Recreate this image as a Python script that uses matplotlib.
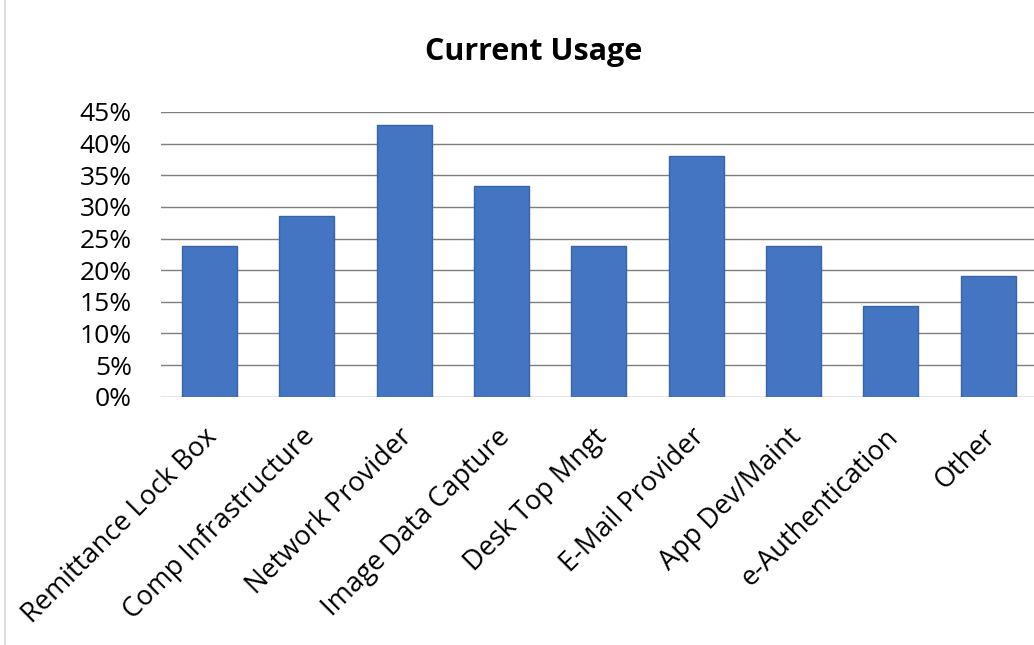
import matplotlib.pyplot as plt
import matplotlib.transforms as mtransforms
from matplotlib.lines import Line2D
import numpy as np

categories = ["Remittance Lock Box", "Comp Infrastructure", "Network Provider",
              "Image Data Capture", "Desk Top Mngt", "E-Mail Provider",
              "App Dev/Maint", "e-Authentication", "Other"]
usage = [23.8, 28.6, 42.9, 33.3, 23.8, 38.1, 23.8, 14.3, 19.0]
yticks = [0, 5, 10, 15, 20, 25, 30, 35, 40, 45]

plt.rcParams['font.family'] = ['Open Sans', 'DejaVu Sans']

fig = plt.figure(figsize=(10.34, 6.45), dpi=100)
ax = fig.add_axes([0.1557, 0.385, 0.847, 0.4414])

x = np.arange(len(categories))
ax.bar(x, usage, width=0.565, color='#4475C2', edgecolor='#3A63A8',
       linewidth=1, zorder=3)

ax.set_xlim(-0.5, len(categories) - 0.5)
ax.set_ylim(0, 45)
ax.set_yticks(yticks)
ax.set_yticklabels([f"{t}%" for t in yticks], fontsize=19)
ax.set_xticks(x)
ax.set_xticklabels(categories, rotation=45, ha='right', rotation_mode='anchor',
                   fontsize=19.5)
ax.tick_params(axis='y', length=0, pad=21)
ax.tick_params(axis='x', length=0, pad=19)

# nudge the slanted category labels a little to the left
shift = mtransforms.ScaledTranslation(-6 / 100, 0, fig.dpi_scale_trans)
for lbl in ax.get_xticklabels():
    lbl.set_transform(lbl.get_transform() + shift)

ax.grid(axis='y', color='#7f7f7f', linewidth=1, zorder=0)
for s in ax.spines.values():
    s.set_visible(False)

fig.text(0.516, 0.919, "Current Usage", ha='center', va='center',
         fontsize=22, fontweight='bold')

# thin frame line down the left edge
fig.add_artist(Line2D([0.005, 0.005], [0, 1], transform=fig.transFigure,
                      color='#dcdcdc', linewidth=1.5))

fig.savefig("out.png", dpi=100)
